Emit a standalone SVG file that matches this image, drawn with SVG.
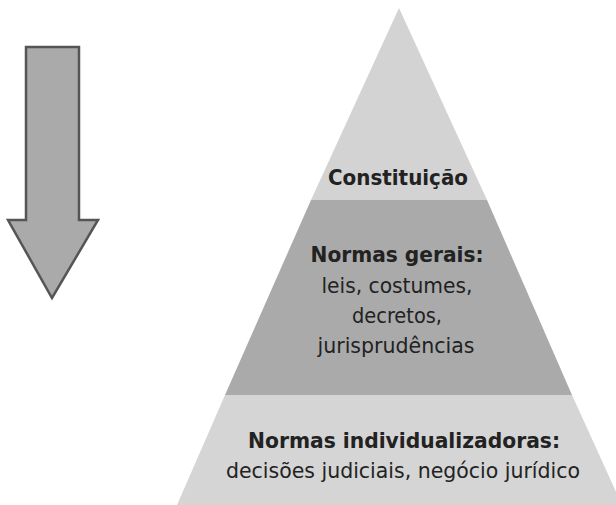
<svg xmlns="http://www.w3.org/2000/svg" width="616" height="505" viewBox="0 0 616 505">
<style>
.t{font-family:"DejaVu Sans Condensed","Liberation Sans Narrow","Liberation Sans",sans-serif;font-size:21px;fill:#222;text-anchor:middle}
.b{font-weight:bold}
</style>
<rect width="616" height="505" fill="#ffffff"/>
<g id="arrow">
<polygon points="26,47 79,47 79,220 98,220 52,298 8,220 26,220" fill="#aaaaaa" stroke="#555555" stroke-width="2.5" stroke-linejoin="miter"/>
</g>
<g id="constituicao">
<polygon points="399,8 487,200 311,200" fill="#d3d3d3"/>
<text class="t b" x="398" y="185" textLength="140" lengthAdjust="spacingAndGlyphs">Constituição</text>
</g>
<g id="normas-gerais">
<polygon points="311,200 487,200 572,395 225,395" fill="#aaaaaa"/>
<text class="t b" x="397" y="262" textLength="173" lengthAdjust="spacingAndGlyphs">Normas gerais:</text>
<text class="t" x="397" y="293" textLength="151" lengthAdjust="spacingAndGlyphs">leis, costumes,</text>
<text class="t" x="397" y="323" textLength="90" lengthAdjust="spacingAndGlyphs">decretos,</text>
<text class="t" x="396" y="353" textLength="157" lengthAdjust="spacingAndGlyphs">jurisprudências</text>
</g>
<g id="normas-individualizadoras">
<polygon points="225,395 572,395 622,505 177,505" fill="#d5d5d5"/>
<text class="t b" x="404" y="448" textLength="312" lengthAdjust="spacingAndGlyphs">Normas individualizadoras:</text>
<text class="t" x="403" y="478" textLength="354" lengthAdjust="spacingAndGlyphs">decisões judiciais, negócio jurídico</text>
</g>
<g id="connectors"/>
</svg>
